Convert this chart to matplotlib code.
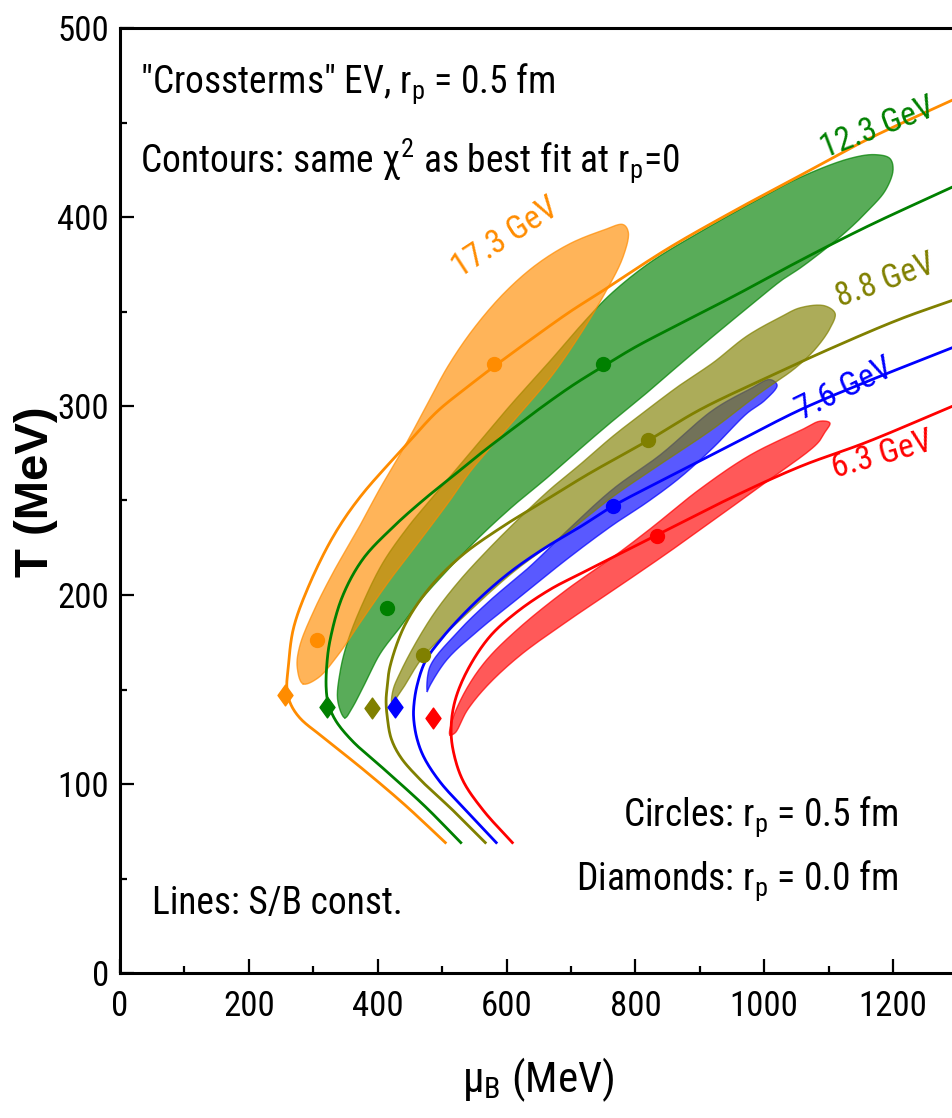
import numpy as np
import matplotlib
matplotlib.use("Agg")
import matplotlib.pyplot as plt
from matplotlib import font_manager as fm
from matplotlib.ticker import MultipleLocator
from matplotlib.path import Path

# ---------------------------------------------------------------------------
# Freeze-out fits in the (mu_B, T) plane, "crossterms" excluded volume model
# ---------------------------------------------------------------------------
energies = ["17.3 GeV", "12.3 GeV", "8.8 GeV", "7.6 GeV", "6.3 GeV"]
colors = ["#FF8C00", "#008000", "#808000", "#0000FF", "#FF0000"]

# chi^2 contours (closed outlines), MeV
band_173_mu = [284, 275, 279, 300, 331, 368, 403, 439, 474, 509, 549, 597, 647, 699, 750,
               781, 789, 781, 750, 709, 668, 626, 585, 543, 512, 466, 419, 376, 338, 307]
band_173_T = [153, 162, 173, 191, 212, 234, 256, 277, 299, 321, 341, 360, 375, 386, 393,
              396, 392, 379, 358, 335, 315, 298, 282, 265, 250, 229, 208, 187, 168, 156]

band_123_mu = [349, 338, 342, 354, 376, 408, 447, 481, 543, 605, 668, 719, 761, 823, 900,
               978, 1056, 1133, 1172, 1195, 1200, 1188, 1160, 1133, 1102, 1056, 1029, 978,
               921, 869, 818, 768, 730, 663, 610, 559, 508, 466, 435, 404, 380, 360]
band_123_T = [135, 144, 160, 176, 195, 217, 236, 250, 275, 300, 324, 344, 359, 376, 392,
              407, 421, 431, 433, 431, 425, 414, 403, 394, 385, 373, 367, 353,
              337, 322, 307, 293, 282, 262, 247, 231, 213, 197, 183, 169, 153, 140]

band_88_mu = [422, 438, 470, 532, 610, 694, 765, 838, 921, 994, 1048, 1079, 1102, 1110, 1094,
              1056, 1025, 973, 921, 869, 818, 765, 714, 668, 621, 574, 528, 489, 458, 435, 424]
band_88_T = [143, 150, 167, 188, 212, 233, 252, 269, 288, 307, 320, 330, 341, 349, 353,
             352, 347, 337, 323, 311, 298, 284, 269, 256, 241, 225, 208, 191, 174, 159, 150]

band_76_mu = [477, 481, 523, 574, 636, 694, 765, 838, 921, 978, 1009, 1020, 1001, 973, 921,
              869, 818, 765, 694, 621, 559, 508, 481]
band_76_T = [149, 162, 180, 197, 215, 234, 256, 274, 298, 309, 314, 311, 303, 296, 278,
             262, 249, 237, 219, 199, 182, 166, 152]

band_63_mu = [512, 517, 539, 570, 621, 694, 765, 823, 900, 978, 1056, 1087, 1102, 1094, 1082,
              1004, 927, 849, 772, 694, 621, 570, 539, 520]
band_63_T = [126, 135, 151, 166, 183, 203, 220, 235, 256, 274, 287, 292, 291, 286, 280,
             260, 241, 222, 204, 186, 168, 152, 139, 127]

# lines of constant S/B
line_173_mu = [505, 442, 380, 318, 279, 264, 259, 261, 269, 292, 331, 373, 446, 492, 539,
               581, 641, 699, 745, 849, 952, 1056, 1160, 1293]
line_173_T = [69, 89, 107, 124, 135, 143, 151, 161, 182, 204, 231, 252, 280, 297, 310,
              321, 336, 350, 360, 383, 403, 422, 441, 462]

line_123_mu = [529, 474, 416, 360, 334, 323, 320, 321, 326, 345, 377, 424, 470, 517, 564,
               610, 657, 703, 750, 799, 849, 952, 1056, 1160, 1293]
line_123_T = [69, 88, 106, 123, 134, 143, 151, 163, 176, 199, 219, 236, 250, 263, 276,
              288, 300, 311, 321, 331, 340, 358, 377, 395, 416]

line_88_mu = [567, 517, 467, 436, 421, 415, 413, 415, 419, 442, 481, 531, 593, 655, 727,
              821, 900, 1004, 1107, 1211, 1293]
line_88_T = [69, 86, 102, 114, 124, 135, 144, 152, 162, 184, 204, 221, 236, 249, 264,
             282, 298, 315, 331, 346, 356]

line_76_mu = [584, 537, 497, 472, 461, 456, 456, 461, 474, 497, 528, 567, 609, 660, 714,
              765, 849, 952, 1056, 1160, 1293]
line_76_T = [69, 86, 101, 114, 124, 134, 141, 152, 165, 176, 188, 201, 213, 225, 236,
             247, 262, 280, 298, 313, 331]

line_63_mu = [609, 564, 532, 517, 514, 520, 539, 574, 616, 668, 719, 835, 952, 1056, 1160, 1293]
line_63_T = [69, 86, 102, 118, 130, 144, 160, 178, 191, 203, 212, 232, 252, 268, 281, 300]

# best fits with r_p = 0.5 fm (circles)
circ_173_mu, circ_173_T = [306, 580], [176, 322]
circ_123_mu, circ_123_T = [415, 750], [193, 322]
circ_88_mu, circ_88_T = [470, 820], [168, 282]
circ_76_mu, circ_76_T = [765], [247]
circ_63_mu, circ_63_T = [834], [231]

# best fits with r_p = 0 (diamonds), one per energy
diam_mu = [256, 321, 391, 427, 486]
diam_T = [147, 141, 140, 141, 135]

bands = [(band_173_mu, band_173_T), (band_123_mu, band_123_T), (band_88_mu, band_88_T),
         (band_76_mu, band_76_T), (band_63_mu, band_63_T)]
lines = [(line_173_mu, line_173_T), (line_123_mu, line_123_T), (line_88_mu, line_88_T),
         (line_76_mu, line_76_T), (line_63_mu, line_63_T)]
circles = [(circ_173_mu, circ_173_T), (circ_123_mu, circ_123_T), (circ_88_mu, circ_88_T),
           (circ_76_mu, circ_76_T), (circ_63_mu, circ_63_T)]


def smooth_path(xs, ys, closed=False, samples=14, yscale=2.93):
    """Centripetal Catmull-Rom curve through the given points (for drawing)."""
    P = np.column_stack([np.asarray(xs, float), np.asarray(ys, float) * yscale])
    if closed:
        P = np.vstack([P[-1], P, P[0], P[1]])
    else:
        P = np.vstack([2 * P[0] - P[1], P, 2 * P[-1] - P[-2]])
    out = []
    for i in range(len(P) - 3):
        p0, p1, p2, p3 = P[i:i + 4]
        t0 = 0.0
        t1 = t0 + max(np.linalg.norm(p1 - p0), 1e-6) ** 0.5
        t2 = t1 + max(np.linalg.norm(p2 - p1), 1e-6) ** 0.5
        t3 = t2 + max(np.linalg.norm(p3 - p2), 1e-6) ** 0.5
        t = np.linspace(t1, t2, samples, endpoint=False)[:, None]
        a1 = (t1 - t) / (t1 - t0) * p0 + (t - t0) / (t1 - t0) * p1
        a2 = (t2 - t) / (t2 - t1) * p1 + (t - t1) / (t2 - t1) * p2
        a3 = (t3 - t) / (t3 - t2) * p2 + (t - t2) / (t3 - t2) * p3
        b1 = (t2 - t) / (t2 - t0) * a1 + (t - t0) / (t2 - t0) * a2
        b2 = (t3 - t) / (t3 - t1) * a2 + (t - t1) / (t3 - t1) * a3
        c = (t2 - t) / (t2 - t1) * b1 + (t - t1) / (t2 - t1) * b2
        out.append(c)
    out.append(P[-2][None, :] if not closed else P[1][None, :])
    C = np.vstack(out)
    return C[:, 0], C[:, 1] / yscale


# ---------------------------------------------------------------------------
# fonts
# ---------------------------------------------------------------------------
available = {f.name for f in fm.fontManager.ttflist}
FONT = "DejaVu Sans"
for cand in ["Liberation Sans Narrow", "Roboto Condensed", "Open Sans Condensed",
             "Liberation Sans", "Arial"]:
    if cand in available:
        FONT = cand
        break
BOLD_FONT = "Liberation Sans" if "Liberation Sans" in available else FONT

plt.rcParams["font.family"] = [FONT, "DejaVu Sans"]
plt.rcParams["mathtext.fontset"] = "custom"
plt.rcParams["mathtext.rm"] = FONT
plt.rcParams["mathtext.it"] = FONT + ":italic"
plt.rcParams["mathtext.bf"] = FONT + ":bold"
plt.rcParams["mathtext.default"] = "regular"

# ---------------------------------------------------------------------------
# figure
# ---------------------------------------------------------------------------
W, H = 953, 1118
fig = plt.figure(figsize=(W / 100, H / 100), dpi=100)
ax = fig.add_axes([120 / W, 145 / H, 837.5 / W, 945 / H])
ax.set_xlim(0, 1300)
ax.set_ylim(0, 500)

ax.spines["right"].set_visible(False)
for s in ["left", "bottom", "top"]:
    ax.spines[s].set_linewidth(2.2)
ax.xaxis.set_major_locator(MultipleLocator(200))
ax.xaxis.set_minor_locator(MultipleLocator(100))
ax.yaxis.set_major_locator(MultipleLocator(100))
ax.yaxis.set_minor_locator(MultipleLocator(50))
ax.tick_params(which="both", direction="in", top=False, right=False, width=1.6,
               labelsize=25)
ax.tick_params(which="major", length=10)
ax.tick_params(which="minor", length=5)
ax.tick_params(axis="x", pad=12)
ax.tick_params(axis="y", pad=8)

# contour fills (olive above blue, orange above green)
band_z = [2.6, 2.2, 2.4, 2.0, 2.0]
for (bm, bt), c, z in zip(bands, colors, band_z):
    sx, sy = smooth_path(bm, bt, closed=True)
    ax.fill(sx, sy, facecolor=c, alpha=0.65, edgecolor="none", zorder=z)
    ax.plot(sx, sy, color=c, lw=1.0, alpha=0.7, zorder=z + 0.05)

# S/B lines
for (lm, lt), c in zip(lines, colors):
    sx, sy = smooth_path(lm, lt)
    ax.plot(sx, sy, color=c, lw=2.0, solid_joinstyle="round", zorder=3)

# circles
for (cm, ct), c in zip(circles, colors):
    ax.plot(cm, ct, linestyle="none", marker="o", ms=10, color=c, zorder=4)

# diamonds
diamond = Path([(0, 1), (0.72, 0), (0, -1), (-0.72, 0), (0, 1)],
               [Path.MOVETO, Path.LINETO, Path.LINETO, Path.LINETO, Path.CLOSEPOLY])
for m, t, c in zip(diam_mu, diam_T, colors):
    ax.plot([m], [t], linestyle="none", marker=diamond, ms=15, color=c, zorder=4)

# energy labels
label_mu = [598, 1177, 1189, 1125, 1183]
label_T = [389, 447, 366, 309, 274]
label_rot = [33, 21, 20, 26, 16]
for name, c, m, t, r in zip(energies, colors, label_mu, label_T, label_rot):
    ax.text(m, t, name, color=c, fontsize=24, rotation=r, rotation_mode="anchor",
            ha="center", va="center", zorder=5)

# annotations
ax.text(31, 466, '"Crossterms" EV, r$_\\mathregular{p}$ = 0.5 fm', fontsize=27,
        ha="left", va="baseline")
ax.text(31, 424, "Contours: same $\\chi^2$ as best fit at r$_\\mathregular{p}$=0", fontsize=27,
        ha="left", va="baseline")
ax.text(1208, 78, "Circles: r$_\\mathregular{p}$ = 0.5 fm", fontsize=27,
        ha="right", va="baseline")
ax.text(1208, 44, "Diamonds: r$_\\mathregular{p}$ = 0.0 fm", fontsize=27,
        ha="right", va="baseline")
ax.text(50, 31, "Lines: S/B const.", fontsize=27, ha="left", va="baseline")

# axis titles
fig.text(36 / W, 1 - 492 / H, "T (MeV)", rotation=90, ha="center", va="center",
         fontsize=34, fontweight="bold", family=[BOLD_FONT, "DejaVu Sans"])
fig.text(538 / W, 1 - 1080 / H, "$\\mu_B$ (MeV)", ha="center", va="center", fontsize=31)

fig.savefig("out.png", dpi=100)
